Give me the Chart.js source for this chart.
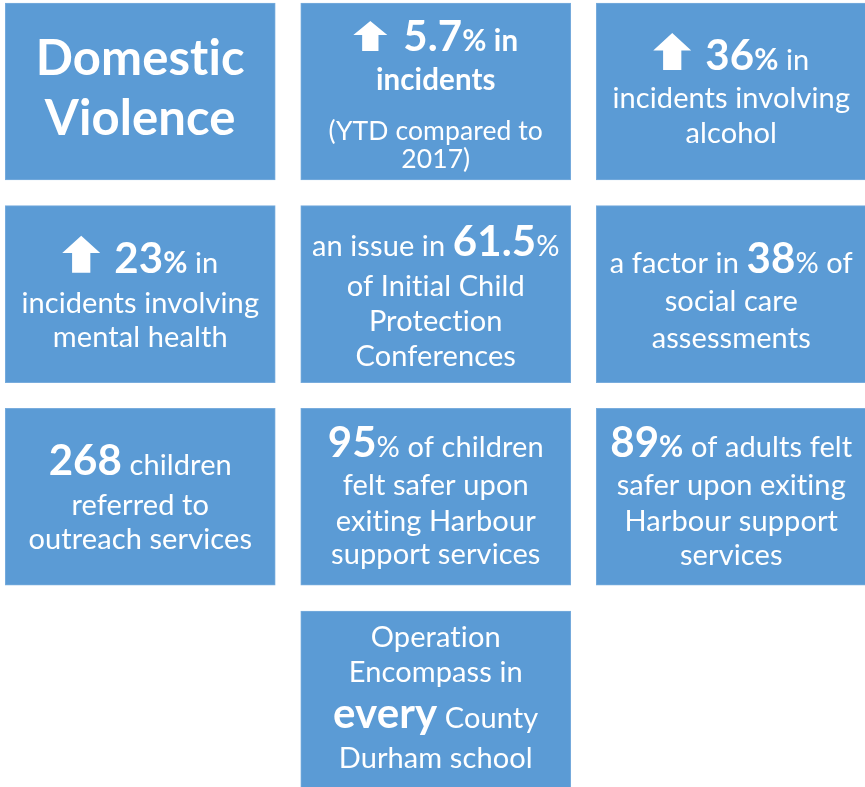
<!DOCTYPE html>
<html>
<head>
<meta charset="utf-8">
<title>Domestic Violence</title>
<script src="https://cdn.jsdelivr.net/npm/chart.js@4.4.1/dist/chart.umd.min.js"></script>
<style>
    html, body { margin: 0; padding: 0; background: #ffffff; }
    #wrap { width: 865px; height: 787px; }
</style>
</head>
<body>
<div id="wrap"><canvas id="tilesChart" width="865" height="787"></canvas></div>
<script>
// Datos de las fichas (columna, fila y texto de cada una)
var tileCols = [0, 1, 2, 0, 1, 2, 0, 1, 2, 1];
var tileRows = [0, 0, 0, 1, 1, 1, 2, 2, 2, 3];

// Cada línea es una lista de tramos [texto, estilo]
var tileLines = [
    [[['Domestic', 't']], [['Violence', 't']]],
    [[['', 'as'], ['5.7', 'B'], ['%', 'b'], [' in', 'b']],
     [['incidents', 'b']],
     [['(YTD compared to', 's']],
     [['2017)', 's']]],
    [[['', 'a'], ['36', 'B'], ['%', 'b'], [' in', 'r']],
     [['incidents involving', 'r']],
     [['alcohol', 'r']]],
    [[['', 'a'], ['23', 'B'], ['%', 'b'], [' in', 'r']],
     [['incidents involving', 'r']],
     [['mental health', 'r']]],
    [[['an issue in ', 'r'], ['61.5', 'B'], ['%', 'r']],
     [['of Initial Child', 'r']],
     [['Protection', 'r']],
     [['Conferences', 'r']]],
    [[['a factor in ', 'r'], ['38', 'B'], ['% of', 'r']],
     [['social care', 'r']],
     [['assessments', 'r']]],
    [[['268', 'B'], [' children', 'r']],
     [['referred to', 'r']],
     [['outreach services', 'r']]],
    [[['95', 'B'], ['% of children', 'r']],
     [['felt safer upon', 'r']],
     [['exiting Harbour', 'r']],
     [['support services', 'r']]],
    [[['89', 'B'], ['%', 'b'], [' of adults felt', 'r']],
     [['safer upon exiting', 'r']],
     [['Harbour support', 'r']],
     [['services', 'r']]],
    [[['Operation', 'r']],
     [['Encompass in', 'r']],
     [['every', 'B'], [' County', 'r']],
     [['Durham school', 'r']]]
];

// Posición vertical (línea base) de cada línea, medida desde el borde superior de la ficha
var lineBaselines = [
    [72, 132],
    [48, 87, 137, 165],
    [67, 105, 140],
    [67, 107, 141],
    [50, 90, 125, 160],
    [67, 105, 142],
    [67, 107, 141],
    [49, 87, 123, 156],
    [49, 87, 123, 157],
    [36, 71, 117, 157]
];

var FONT = "Lato, 'Open Sans', sans-serif";
var textStyles = {
    t: { size: 49, weight: 'bold' },
    B: { size: 42, weight: 'bold' },
    b: { size: 29.5, weight: 'bold' },
    r: { size: 29, weight: 'normal' },
    s: { size: 26.5, weight: 'normal' },
    a: { arrow: true, w: 38, h: 37, gap: 14 },
    as: { arrow: true, w: 34, h: 30, gap: 16 }
};

var TILE_SPAN = 0.873;

function setFont(ctx, st) {
    ctx.font = st.weight + ' ' + st.size + 'px ' + FONT;
}

function runWidth(ctx, run) {
    var st = textStyles[run[1]];
    if (st.arrow) return st.w + st.gap;
    setFont(ctx, st);
    return ctx.measureText(run[0]).width;
}

function drawArrow(ctx, x, baseline, st) {
    var head = st.h * 0.47;
    var stem = st.w * 0.48;
    var top = baseline - st.h;
    ctx.beginPath();
    ctx.moveTo(x + st.w / 2, top);
    ctx.lineTo(x + st.w, top + head);
    ctx.lineTo(x + st.w / 2 + stem / 2, top + head);
    ctx.lineTo(x + st.w / 2 + stem / 2, baseline);
    ctx.lineTo(x + st.w / 2 - stem / 2, baseline);
    ctx.lineTo(x + st.w / 2 - stem / 2, top + head);
    ctx.lineTo(x, top + head);
    ctx.closePath();
    ctx.fill();
}

// Plugin que escribe el texto de cada ficha sobre su barra
var tileTextPlugin = {
    id: 'tileText',
    afterDatasetsDraw: function(chart) {
        var ctx = chart.ctx;
        var meta = chart.getDatasetMeta(0);
        ctx.save();
        ctx.fillStyle = '#ffffff';
        ctx.textAlign = 'left';
        ctx.textBaseline = 'alphabetic';
        // sin ligaduras (Lato une la "st")
        if ('letterSpacing' in ctx) ctx.letterSpacing = '0.1px';
        meta.data.forEach(function(bar, i) {
            var top = Math.min(bar.y, bar.base);
            tileLines[i].forEach(function(line, j) {
                var total = 0;
                line.forEach(function(run) { total += runWidth(ctx, run); });
                var x = bar.x - total / 2;
                var baseline = top + lineBaselines[i][j];
                line.forEach(function(run) {
                    var st = textStyles[run[1]];
                    if (st.arrow) {
                        drawArrow(ctx, x, baseline, st);
                    } else {
                        setFont(ctx, st);
                        ctx.fillText(run[0], x, baseline);
                    }
                    x += runWidth(ctx, run);
                });
            });
        });
        ctx.restore();
    }
};

document.addEventListener('DOMContentLoaded', function() {
    var ctx = document.getElementById('tilesChart');

    new Chart(ctx, {
        type: 'bar',
        data: {
            datasets: [{
                data: tileCols.map(function(c, i) {
                    return { x: c, y: [tileRows[i], tileRows[i] + TILE_SPAN] };
                }),
                backgroundColor: '#5B9BD5',
                borderColor: '#78ACDD',
                borderWidth: 1,
                borderSkipped: false,
                barThickness: 270
            }]
        },
        options: {
            responsive: false,
            devicePixelRatio: 1,
            animation: false,
            layout: { padding: 0 },
            plugins: {
                legend: { display: false },
                tooltip: { enabled: false }
            },
            scales: {
                x: {
                    type: 'linear',
                    display: false,
                    offset: false,
                    min: -0.4746,
                    max: 2.4526
                },
                y: {
                    type: 'linear',
                    display: false,
                    reverse: true,
                    min: -0.0148,
                    max: 3.8683
                }
            }
        },
        plugins: [tileTextPlugin]
    });
});
</script>
</body>
</html>
